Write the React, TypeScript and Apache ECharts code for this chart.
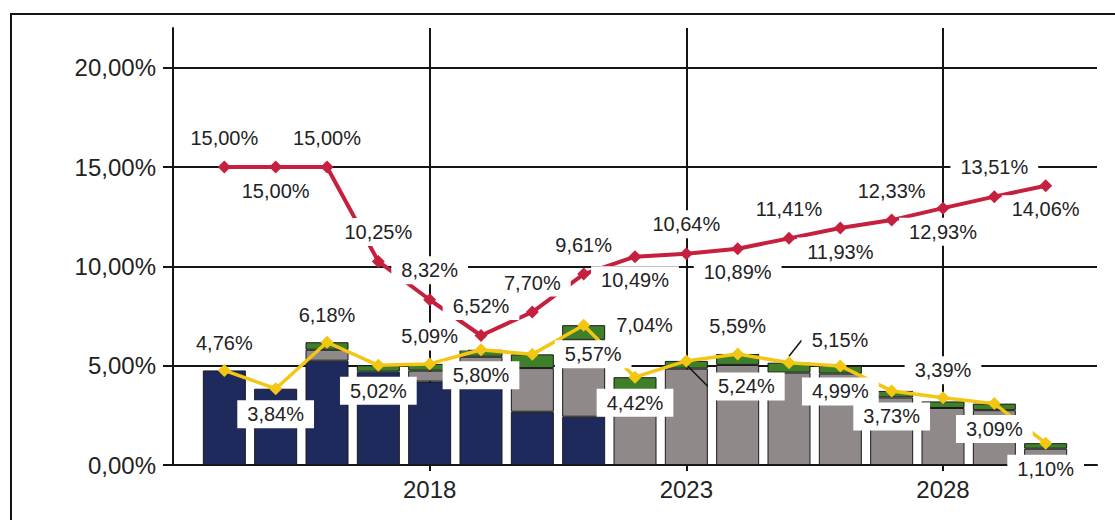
import React, { useEffect, useRef } from "react";
import * as echarts from "echarts";

const years = ["2014", "2015", "2016", "2017", "2018", "2019", "2020", "2021", "2022", "2023", "2024", "2025", "2026", "2027", "2028", "2029", "2030"];
const navyPart = [4.76, 3.84, 5.25, 4.70, 4.20, 3.90, 2.68, 2.43, 0, 0, 0, 0, 0, 0, 0, 0, 0];
const grayPart = [0, 0, 0.55, 0, 0.55, 1.55, 2.20, 3.87, 3.74, 4.85, 5.04, 4.65, 4.60, 3.40, 2.87, 2.76, 0.82];
const greenPart = [0, 0, 0.38, 0.32, 0.34, 0.35, 0.69, 0.74, 0.68, 0.39, 0.55, 0.50, 0.39, 0.33, 0.33, 0.33, 0.28];
const redLine = [15.0, 15.0, 15.0, 10.25, 8.32, 6.52, 7.7, 9.61, 10.49, 10.64, 10.89, 11.41, 11.93, 12.33, 12.93, 13.51, 14.06];
const yellowLine = [4.76, 3.84, 6.18, 5.02, 5.09, 5.8, 5.57, 7.04, 4.42, 5.24, 5.59, 5.15, 4.99, 3.73, 3.39, 3.09, 1.1];
const redLabelPos = ["top", "bottom", "top", "top", "top", "top", "top", "top", "bottom", "top", "bottom", "top", "bottom", "top", "bottom", "top", "bottom"];
const yellowLabelPos = ["top", "bottom", "top", "bottom", "top", "bottom", "right", "right", "bottom", "bottom", "top", "top", "bottom", "bottom", "top", "bottom", "bottom"];
const yTicks = [0, 5, 10, 15, 20];
const shownYears = ["2018", "2023", "2028"];

const NAVY = "#1f2a5c";
const GRAY = "#8f8989";
const GREEN = "#3f7f2a";
const RED = "#c5203e";
const YELLOW = "#f3c613";
const INK = "#151515";
const FONT = "'Liberation Sans', Arial, sans-serif";

const fmt = (v: number) => v.toFixed(2).replace(".", ",") + "%";
const pad = (a: any[]) => [null, ...a, null];
const cats = ["", ...years, ""];

const isShown = (_i: number, v: string) => shownYears.indexOf(v) >= 0;

const labelBase = {
  show: true,
  color: "#222",
  fontSize: 20,
  fontFamily: FONT,
  lineHeight: 20,
  backgroundColor: "#fff",
  padding: [4, 10],
  formatter: (p: any) => fmt(p.value),
};

export default function App() {
  const ref = useRef<HTMLDivElement>(null);
  useEffect(() => {
    if (!ref.current) return;
    const chart = echarts.init(ref.current, null, { renderer: "svg" });

    const barSeries = (name: string, data: number[], color: string) => ({
      name,
      type: "bar",
      stack: "total",
      barWidth: 43,
      data: pad(data.map((v) => (v > 0 ? v : null))),
      itemStyle: { color, borderColor: "#1a1a1a", borderWidth: 1 },
      z: 2,
    });

    const redData = pad(
      redLine.map((v, i) => ({
        value: v,
        label: { position: redLabelPos[i], distance: redLabelPos[i] === "top" ? 9 : 3 },
      }))
    );
    const yellowData = pad(
      yellowLine.map((v, i) => {
        const pos = yellowLabelPos[i];
        const item: any = {
          value: v,
          label: { position: pos, distance: pos === "right" ? 16 : pos === "top" ? 7 : 5 },
        };
        if (years[i] === "2023" || years[i] === "2025") {
          item.labelLine = { show: true, lineStyle: { color: INK, width: 1.5 } };
        }
        return item;
      })
    );

    chart.setOption({
      animation: false,
      backgroundColor: "#fff",
      grid: { left: 173, right: 18, top: 28, bottom: 55 },
      graphic: [
        {
          type: "rect",
          shape: { x: 11, y: 14, width: 1130, height: 530 },
          style: { fill: "none", stroke: INK, lineWidth: 2 },
          silent: true,
          z: 0,
        },
      ],
      xAxis: {
        type: "category",
        data: cats,
        boundaryGap: false,
        axisLine: { show: true, lineStyle: { color: INK, width: 2 } },
        axisTick: { show: true, interval: isShown, length: 6, lineStyle: { color: INK, width: 2 } },
        axisLabel: { interval: isShown, color: "#222", fontSize: 24, fontFamily: FONT, margin: 12 },
        splitLine: { show: true, interval: isShown, lineStyle: { color: INK, width: 2 } },
      },
      yAxis: {
        type: "value",
        min: 0,
        max: 22,
        interval: 5,
        axisLine: { show: true, lineStyle: { color: INK, width: 2 } },
        axisTick: { show: true, length: 10, customValues: yTicks, lineStyle: { color: INK, width: 2 } },
        axisLabel: {
          customValues: yTicks,
          formatter: (v: number) => fmt(v),
          color: "#222",
          fontSize: 24,
          fontFamily: FONT,
          margin: 17,
        },
        splitLine: { show: true, lineStyle: { color: INK, width: 2 } },
      },
      series: [
        barSeries("A", navyPart, NAVY),
        barSeries("B", grayPart, GRAY),
        barSeries("C", greenPart, GREEN),
        {
          name: "Yellow",
          type: "line",
          data: yellowData,
          symbol: "diamond",
          symbolSize: 13,
          lineStyle: { color: YELLOW, width: 3.5 },
          itemStyle: { color: YELLOW },
          label: labelBase,
          labelLayout: (params: any) => {
            if (params.dataIndex === 10) return { dx: 60 };
            if (params.dataIndex === 12) return { dx: 51, dy: 5 };
            return {};
          },
          z: 4,
        },
        {
          name: "Red",
          type: "line",
          data: redData,
          symbol: "diamond",
          symbolSize: 13,
          lineStyle: { color: RED, width: 4 },
          itemStyle: { color: RED },
          label: labelBase,
          z: 5,
        },
      ],
    });
    return () => chart.dispose();
  }, []);
  return (
    <div style={{ position: "fixed", left: 0, top: 0, width: 1115, height: 520, background: "#fff" }}>
      <div ref={ref} style={{ width: 1115, height: 520 }} />
    </div>
  );
}
